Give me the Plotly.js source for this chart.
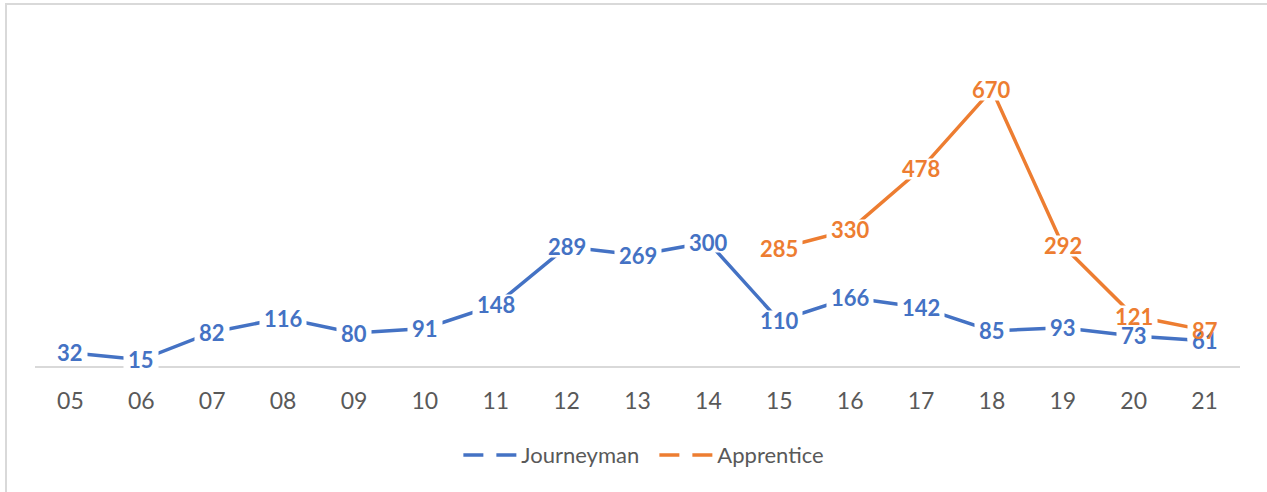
<!DOCTYPE html>
<html>
<head>
<meta charset="utf-8">
<script src="https://cdn.plot.ly/plotly-3.0.1.min.js"></script>
<style>
  body { margin: 0; background: #fff; }
  #frame {
    position: absolute; left: 5px; top: 3px; width: 1262px; height: 489px;
    border-left: 2px solid #d9d9d9; border-top: 2px solid #d9d9d9;
  }
  #plot { width: 1260px; height: 487px; }
</style>
</head>
<body>
<div id="frame"><div id="plot"></div></div>
<script>
var years = ["05","06","07","08","09","10","11","12","13","14","15","16","17","18","19","20","21"]
var journeyman = [32, 15, 82, 116, 80, 91, 148, 289, 269, 300, 110, 166, 142, 85, 93, 73, 61]
var apprenticeYears = ["15","16","17","18","19","20","21"]
var apprentice = [285, 330, 478, 670, 292, 121, 87]

var blue = "#4472C4"
var orange = "#ED7D31"

var lineJ = {
    x: years, y: journeyman, name: "Journeyman",
    type: "scatter", mode: "lines",
    line: {color: blue, width: 3.5},
    showlegend: false, hoverinfo: "skip"
}
var lineA = {
    x: apprenticeYears, y: apprentice, name: "Apprentice",
    type: "scatter", mode: "lines",
    line: {color: orange, width: 3.5},
    showlegend: false, hoverinfo: "skip"
}
// legend-only traces so the legend sample looks like Excel's split line
var legJ = {x: [null], y: [null], name: "Journeyman", type: "scatter", mode: "lines",
    line: {color: blue, width: 3.5, dash: "20px,13px"}}
var legA = {x: [null], y: [null], name: "Apprentice", type: "scatter", mode: "lines",
    line: {color: orange, width: 3.5, dash: "20px,13px"}}

// white boxes that cut the lines behind the labels (drawn first)
function masks(xs, ys) {
    return ys.map((v, i) => ({
        x: years.indexOf(xs[i]), y: v, xref: "x", yref: "y",
        text: " ", showarrow: false, bgcolor: "#ffffff",
        width: String(v).length * 12 + 10, height: 20, borderpad: 0
    }))
}
// label texts on top, no background
function labels(xs, ys, color) {
    return ys.map((v, i) => ({
        x: years.indexOf(xs[i]), y: v, xref: "x", yref: "y",
        text: String(v), showarrow: false,
        font: {family: "Lato, sans-serif", size: 22, color: color, weight: "bold"}
    }))
}

var layout = {
    width: 1260, height: 487,
    margin: {l: 28, r: 27, t: 31, b: 126},
    paper_bgcolor: "#ffffff", plot_bgcolor: "#ffffff",
    font: {family: "Lato, sans-serif", color: "#595959"},
    xaxis: {
        type: "category", categoryorder: "array", categoryarray: years,
        range: [-0.5, 16.5],
        showline: true, linecolor: "#d9d9d9", linewidth: 1.5,
        showgrid: false, zeroline: false, ticks: "",
        ticklabelstandoff: 14,
        tickfont: {size: 23, color: "#595959"}
    },
    yaxis: {
        range: [0, 800], visible: false, showgrid: false, zeroline: false
    },
    showlegend: true,
    legend: {
        orientation: "h", x: 0.514, xanchor: "center", y: -0.27, yanchor: "middle",
        entrywidth: 128, itemwidth: 53,
        font: {size: 22, color: "#595959"}
    },
    annotations: masks(years, journeyman).concat(masks(apprenticeYears, apprentice),
        labels(years, journeyman, blue), labels(apprenticeYears, apprentice, orange))
}

Plotly.newPlot("plot", [lineJ, lineA, legJ, legA], layout, {displayModeBar: false, staticPlot: true})
</script>
</body>
</html>
